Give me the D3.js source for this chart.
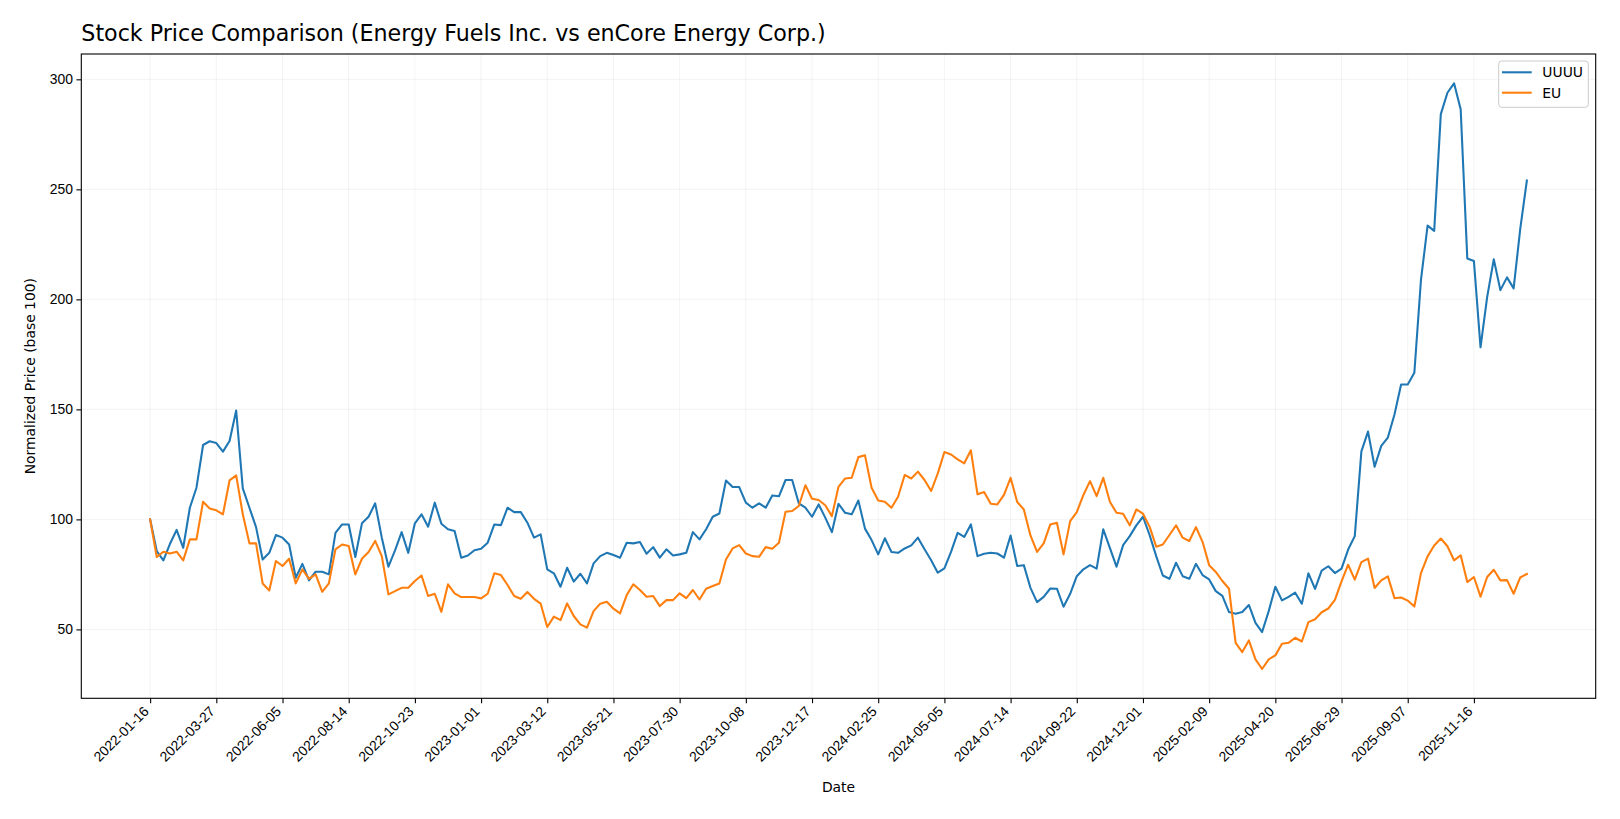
<!DOCTYPE html>
<html>
<head>
<meta charset="utf-8">
<script src="https://cdn.jsdelivr.net/npm/d3@7"></script>
<style>
  body { margin: 0; background: #fff; }
  svg { display: block; font-family: "DejaVu Sans", sans-serif; }
</style>
</head>
<body>
<svg width="1620" height="819"></svg>
<script>
// weekly closes, normalized to 100 at the first week
const startDate = "2022-01-16";
const uuuu = [
  100, 85.6, 81.4, 88.9, 95.2, 87.1, 105.3, 114.4, 133.8, 135.5,
  134.7, 130.8, 135.6, 149.5, 114.1, 105.3, 96.5, 81.8, 84.8, 92.9,
  91.7, 88.6, 73.5, 79.8, 72.3, 76.2, 76.2, 75, 93.9, 97.7,
  97.7, 82.9, 98.2, 101.2, 107.3, 91.7, 78.5, 85.9, 94.2, 84.8,
  98.2, 102.3, 96.7, 107.6, 98, 95.5, 94.7, 82.6, 83.6, 86,
  86.7, 89.4, 97.7, 97.4, 105.3, 103.3, 103.3, 98.5, 91.7, 93.2,
  77.3, 75.5, 69.4, 78, 71.7, 75.3, 70.9, 80, 83.3, 84.8,
  83.8, 82.6, 89.4, 89.1, 89.7, 84.4, 87.4, 82.6, 86.4, 83.6,
  84.1, 84.8, 94.2, 90.9, 95.5, 101.2, 102.7, 117.7, 114.7, 114.7,
  107.6, 105.3, 107.3, 105.3, 110.9, 110.5, 117.9, 117.9, 107.3, 105.3,
  101.2, 106.8, 100.8, 94.2, 107.1, 103, 102.3, 108.6, 95.8, 90.6,
  84.1, 91.4, 85.2, 84.8, 86.8, 88.2, 91.7, 86.4, 81.4, 75.8,
  77.7, 85.2, 93.9, 92, 97.7, 83.3, 84.4, 84.8, 84.5, 82.6,
  92.7, 78.8, 79.2, 68.9, 62.4, 64.8, 68.6, 68.5, 60.3, 66.2,
  74.2, 77.3, 79.2, 77.6, 95.5, 87.1, 78.5, 88.3, 92.4, 97.3,
  101.2, 92.9, 83.3, 74.5, 73, 80.3, 74.2, 73, 79.8, 74.7,
  72.7, 67.4, 65.2, 57.9, 57.1, 57.9, 61.1, 53, 48.8, 58.3,
  69.4, 63.2, 64.8, 66.7, 61.7, 75.5, 68.4, 76.7, 78.7, 75.6,
  77.6, 86.3, 92.4, 130.9, 139.9, 123.9, 133.4, 137.2, 147.7, 161.3,
  161.3, 166.6, 208.8, 233.5, 231.1, 284.2, 293.9, 298.2, 286.4, 218.6,
  217.4, 178.2, 201, 218.2, 204.2, 210, 205, 232, 254
];
const eu = [
  100, 82.9, 85.3, 84.5, 85.3, 81.4, 90.9, 90.9, 108, 105,
  104.1, 102.3, 117.7, 120, 102.3, 89.1, 89.1, 70.9, 67.7, 81.1,
  78.8, 82.1, 70.9, 77.3, 73, 75, 67.1, 70.9, 86.4, 88.6,
  87.9, 75, 82.1, 85.2, 90.2, 83.3, 65.9, 67.4, 68.9, 68.9,
  72, 74.5, 65.2, 66.2, 58, 70.5, 66.4, 64.7, 64.7, 64.7,
  64.1, 66.2, 75.5, 74.7, 70.2, 65.2, 63.9, 67, 63.9, 61.7,
  51.1, 55.8, 54.2, 61.8, 56.1, 52.3, 50.8, 58.3, 61.7, 62.6,
  59.4, 57.3, 65.6, 70.5, 67.9, 64.8, 65.2, 60.6, 63.3, 63.3,
  66.4, 64.2, 67.9, 63.6, 68.5, 69.7, 70.9, 81.8, 86.8, 88.3,
  84.5, 83.3, 83, 87.4, 86.7, 89.4, 103.5, 103.8, 106.1, 115.5,
  109.4, 108.8, 106.4, 101.5, 114.8, 118.6, 118.9, 128.3, 129.1, 114.4,
  108.6, 108, 105.3, 110.3, 120.2, 118.6, 121.7, 117.9, 112.9, 120.9,
  130.6, 129.5, 127.3, 125.5, 131.4, 111.4, 112.4, 107.1, 106.8, 111.1,
  118.9, 107.9, 104.5, 92.7, 85.2, 89.1, 97.7, 98.5, 84.1, 99.2,
  103.3, 111.1, 117.4, 110.6, 118.9, 108, 103, 102.6, 97.3, 104.5,
  102.6, 96.7, 87.6, 88.6, 92.9, 97.3, 91.7, 90.2, 96.5, 89.8,
  79.2, 76.1, 72, 68.5, 43.9, 39.7, 45, 36.4, 32, 36.4,
  38.2, 43.5, 43.9, 46.2, 44.5, 53.3, 54.6, 57.8, 59.5, 63.4,
  71.8, 79.4, 72.6, 80.6, 82.2, 68.8, 72.3, 74.1, 64.2, 64.5,
  63.1, 60.4, 75.6, 83.2, 88.1, 91.3, 87.8, 81.4, 83.7, 71.5,
  73.8, 64.9, 73.8, 77.1, 72.3, 72.4, 66.2, 73.6, 75.2
];
const xTickLabels = [
  "2022-01-16", "2022-03-27", "2022-06-05", "2022-08-14", "2022-10-23",
  "2023-01-01", "2023-03-12", "2023-05-21", "2023-07-30", "2023-10-08",
  "2023-12-17", "2024-02-25", "2024-05-05", "2024-07-14", "2024-09-22",
  "2024-12-01", "2025-02-09", "2025-04-20", "2025-06-29", "2025-09-07",
  "2025-11-16"
];
const yTicks = [50, 100, 150, 200, 250, 300];
const seriesNames = ["UUUU", "EU"];
const colors = ["#1f77b4", "#ff7f0e"];

const svg = d3.select("svg");
const margin = {left: 81.3, right: 1620 - 1595.7, top: 54, bottom: 819 - 698.3};
const W = 1620, H = 819;

const parse = d3.utcParse("%Y-%m-%d");
const t0 = parse(startDate);
const dates = uuuu.map((d, i) => d3.utcDay.offset(t0, 7 * i));

// matplotlib style 5% margins
const xExt = d3.extent(dates);
const xPad = (xExt[1] - xExt[0]) * 0.05;
const x = d3.scaleUtc()
  .domain([new Date(+xExt[0] - xPad), new Date(+xExt[1] + xPad)])
  .range([margin.left, W - margin.right]);

const allVals = uuuu.concat(eu);
const yMin = d3.min(allVals), yMax = d3.max(allVals);
const yPad = (yMax - yMin) * 0.05;
const y = d3.scaleLinear()
  .domain([yMin - yPad, yMax + yPad])
  .range([H - margin.bottom, margin.top]);

const tickDates = xTickLabels.map(parse);

// grid
const grid = svg.append("g");
grid.selectAll(".gx").data(tickDates).enter().append("line")
  .attr("x1", d => x(d)).attr("x2", d => x(d))
  .attr("y1", margin.top).attr("y2", H - margin.bottom)
  .attr("stroke", "#b0b0b0").attr("stroke-opacity", 0.2).attr("stroke-width", 0.8);
grid.selectAll(".gy").data(yTicks).enter().append("line")
  .attr("x1", margin.left).attr("x2", W - margin.right)
  .attr("y1", d => y(d)).attr("y2", d => y(d))
  .attr("stroke", "#b0b0b0").attr("stroke-opacity", 0.2).attr("stroke-width", 0.8);

// lines
const line = d3.line().x((d, i) => x(dates[i])).y(d => y(d));
[uuuu, eu].forEach((s, k) => {
  svg.append("path")
    .attr("d", line(s))
    .attr("fill", "none")
    .attr("stroke", colors[k])
    .attr("stroke-width", 2.08)
    .attr("stroke-linejoin", "round")
    .attr("stroke-linecap", "square");
});

// axes
const xAxis = svg.append("g")
  .attr("transform", `translate(0,${H - margin.bottom})`)
  .call(d3.axisBottom(x).tickValues(tickDates).tickSize(4.9).tickSizeOuter(0)
    .tickFormat(d3.utcFormat("%Y-%m-%d")));
xAxis.selectAll("text")
  .attr("font-size", 13.9)
  .attr("fill", "#000")
  .attr("text-anchor", "end")
  .attr("dy", null)
  .attr("y", null)
  .attr("transform", "translate(-1,14) rotate(-45)");

const yAxis = svg.append("g")
  .attr("transform", `translate(${margin.left},0)`)
  .call(d3.axisLeft(y).tickValues(yTicks).tickSize(4.9).tickSizeOuter(0));
yAxis.selectAll("text").attr("font-size", 13.9).attr("fill", "#000").attr("x", -8.4);

[xAxis, yAxis].forEach(a => {
  a.select(".domain").remove();
  a.selectAll("line").attr("stroke", "#000").attr("stroke-width", 1.1);
});

// frame
svg.append("rect")
  .attr("x", margin.left).attr("y", margin.top)
  .attr("width", W - margin.left - margin.right)
  .attr("height", H - margin.top - margin.bottom)
  .attr("fill", "none").attr("stroke", "#000").attr("stroke-width", 1.1);

// labels
svg.append("text")
  .attr("x", margin.left).attr("y", 41)
  .attr("font-size", 22.2)
  .text("Stock Price Comparison (Energy Fuels Inc. vs enCore Energy Corp.)");

svg.append("text")
  .attr("x", (margin.left + W - margin.right) / 2).attr("y", 792)
  .attr("text-anchor", "middle").attr("font-size", 13.9)
  .text("Date");

svg.append("text")
  .attr("transform", `translate(35,${(margin.top + H - margin.bottom) / 2}) rotate(-90)`)
  .attr("text-anchor", "middle").attr("font-size", 13.9)
  .text("Normalized Price (base 100)");

// legend
const lg = svg.append("g");
lg.append("rect")
  .attr("x", 1498.7).attr("y", 61).attr("width", 89.6).attr("height", 46.3)
  .attr("rx", 3).attr("fill", "#fff").attr("fill-opacity", 0.8)
  .attr("stroke", "#cccccc").attr("stroke-width", 1);
seriesNames.forEach((n, k) => {
  const ly = 72.3 + k * 20.4;
  lg.append("line")
    .attr("x1", 1502).attr("x2", 1531.7).attr("y1", ly).attr("y2", ly)
    .attr("stroke", colors[k]).attr("stroke-width", 2.08);
  lg.append("text")
    .attr("x", 1542.3).attr("y", ly + 5)
    .attr("font-size", 13.9).text(n);
});
</script>
</body>
</html>
